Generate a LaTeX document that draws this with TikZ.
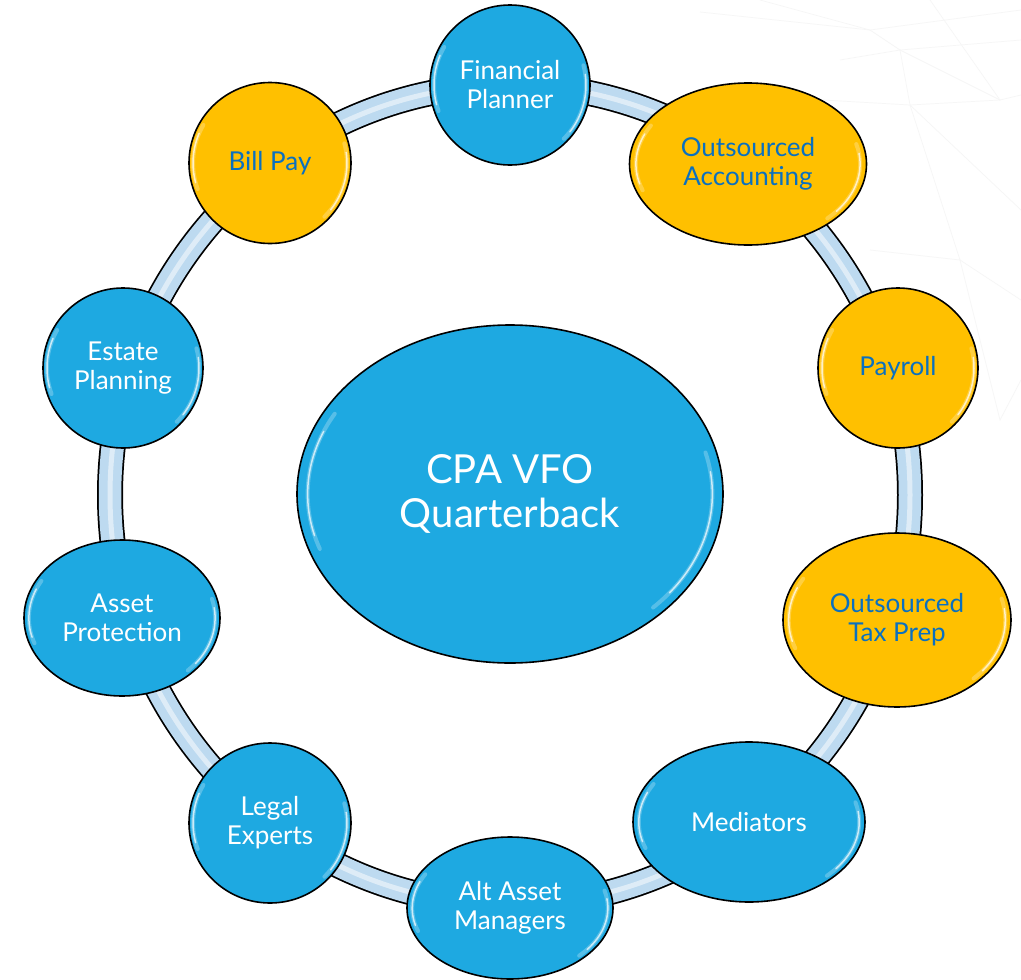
\documentclass[tikz,border=0pt]{standalone}
\usepackage{fontspec}
\setmainfont{Lato}
\usetikzlibrary{shapes.geometric}
\pgfdeclarelayer{background}
\pgfdeclarelayer{deep}
\pgfsetlayers{deep,background,main}
\definecolor{bub}{HTML}{1EA9E1}
\definecolor{gold}{HTML}{FFC000}
\definecolor{txtblue}{HTML}{0A70C0}
\definecolor{ringfill}{HTML}{BDDAF0}
\tikzset{
  bubble/.style={ellipse, draw=black, line width=1.6pt, inner sep=0pt, align=center,
    font=\fontsize{26}{29}\selectfont},
  bluebub/.style={bubble, fill=bub, text=white},
  goldbub/.style={bubble, fill=gold, text=txtblue},
  hilite/.style={white, line cap=round},
  bgline/.style={gray!7, line width=0.7pt},
}
\newcommand\glossmark[4]{%
  \draw[hilite, line width=4pt, opacity=0.25, shift={(#1,#2)}]
    ({0.95*#3*cos(160)},{0.95*#4*sin(160)}) arc[start angle=160, end angle=210, x radius={0.95*#3}, y radius={0.95*#4}];
  \draw[hilite, line width=1.5pt, opacity=0.7, shift={(#1,#2)}]
    ({0.95*#3*cos(165)},{0.95*#4*sin(165)}) arc[start angle=165, end angle=203, x radius={0.95*#3}, y radius={0.95*#4}];
  \draw[hilite, line width=4pt, opacity=0.25, shift={(#1,#2)}]
    ({0.95*#3*cos(-15)},{0.95*#4*sin(-15)}) arc[start angle=-15, end angle=45, x radius={0.95*#3}, y radius={0.95*#4}];
  \draw[hilite, line width=1.5pt, opacity=0.7, shift={(#1,#2)}]
    ({0.95*#3*cos(-8)},{0.95*#4*sin(-8)}) arc[start angle=-8, end angle=38, x radius={0.95*#3}, y radius={0.95*#4}];
}
\begin{document}
\begin{tikzpicture}[x=1pt, y=-1pt]
\useasboundingbox (0,0) rectangle (1021,980);
\begin{pgfonlayer}{deep}
  \fill[white] (0,0) rectangle (1021,980);
  \draw[bgline] (700,12) -- (870,30) -- (1021,10);
  \draw[bgline] (760,0) -- (870,30) -- (900,50) -- (1021,40);
  \draw[bgline] (840,60) -- (900,50) -- (1000,100) -- (1021,95);
  \draw[bgline] (900,50) -- (910,105) -- (1021,210);
  \draw[bgline] (823,100) -- (910,105) -- (1000,100);
  \draw[bgline] (910,105) -- (960,260) -- (1021,300);
  \draw[bgline] (870,250) -- (960,260);
  \draw[bgline] (930,0) -- (1000,100);
  \draw[bgline] (960,260) -- (1000,420) -- (1021,380);
\end{pgfonlayer}

% nodes
\node[bluebub, minimum width=160pt, minimum height=160pt] (fp) at (510,85) {Financial\\Planner};
\node[goldbub, minimum width=237pt, minimum height=162pt] (oa) at (748,164) {Outsourced\\Accounting};
\node[goldbub, minimum width=160pt, minimum height=160pt] (pay) at (898,368) {Payroll};
\node[goldbub, minimum width=228pt, minimum height=174pt] (otp) at (897,620) {Outsourced\\Tax Prep};
\node[bluebub, minimum width=232pt, minimum height=160pt] (med) at (749,822) {Mediators};
\node[bluebub, minimum width=206pt, minimum height=142pt] (alt) at (510,908) {Alt Asset\\Managers};
\node[bluebub, minimum width=162pt, minimum height=160pt] (legal) at (270,823) {Legal\\Experts};
\node[bluebub, minimum width=196pt, minimum height=156pt] (ap) at (122,618) {Asset\\Protection};
\node[bluebub, minimum width=160pt, minimum height=160pt] (ep) at (123,368) {Estate\\Planning};
\node[goldbub, minimum width=162pt, minimum height=161pt] (bp) at (270,163) {Bill Pay};
\node[bluebub, minimum width=426pt, minimum height=338pt, font=\fontsize{40}{44}\selectfont] (qb) at (510,494) {CPA VFO\\Quarterback};

% gloss highlights
\glossmark{510}{85}{80}{80}
\glossmark{748}{164}{118}{81}
\glossmark{898}{368}{80}{80}
\glossmark{897}{620}{114}{87}
\glossmark{749}{822}{116}{80}
\glossmark{510}{908}{103}{71}
\glossmark{270}{823}{81}{80}
\glossmark{122}{618}{98}{78}
\glossmark{123}{368}{80}{80}
\glossmark{270}{163}{81}{80}
\glossmark{510}{494}{213}{169}

% ring connecting the outer nodes
\begin{pgfonlayer}{background}
  \draw[black, line width=26pt] (510,495) ellipse[x radius=400, y radius=410];
  \draw[ringfill, line width=22.5pt] (510,495) ellipse[x radius=400, y radius=410];
  \draw[white, line width=5pt, opacity=0.5] (510,495) ellipse[x radius=400, y radius=410];
\end{pgfonlayer}
\end{tikzpicture}
\end{document}
